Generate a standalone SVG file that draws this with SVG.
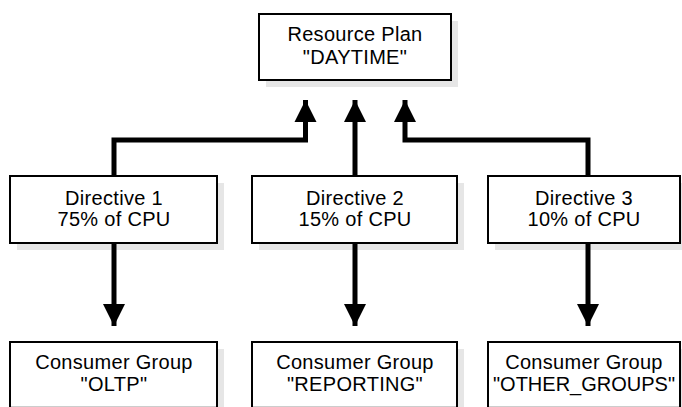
<svg xmlns="http://www.w3.org/2000/svg" width="682" height="407" viewBox="0 0 682 407">
<defs>
<style>
.box{fill:#fff;stroke:#000;stroke-width:2}
.sh{fill:#e6e6e6}
.t{font-family:"Liberation Sans",Arial,sans-serif;font-size:20px;text-anchor:middle;fill:#000;letter-spacing:0.3px}
.ln{fill:none;stroke:#000;stroke-width:5;stroke-linejoin:miter}
</style>
<marker id="ah" markerUnits="userSpaceOnUse" markerWidth="22" markerHeight="24" refX="22" refY="11" orient="auto" viewBox="0 0 22 22">
<path d="M0,0 L22,11 L0,22 Z" fill="#000"/>
</marker>
</defs>
<rect width="682" height="407" fill="#fff"/>
<g id="plan">
<rect class="sh" x="266" y="21" width="192" height="66"/>
<rect class="box" x="259" y="14" width="192" height="66"/>
<text class="t" x="355" y="41">Resource Plan</text>
<text class="t" x="355" y="64">"DAYTIME"</text>
</g>
<g id="d1">
<rect class="sh" x="17" y="183" width="207" height="67"/>
<rect class="box" x="10" y="176" width="207" height="67"/>
<text class="t" x="114" y="205">Directive 1</text>
<text class="t" x="114" y="226">75% of CPU</text>
</g>
<g id="d2">
<rect class="sh" x="259" y="183" width="205" height="67"/>
<rect class="box" x="252" y="176" width="205" height="67"/>
<text class="t" x="355" y="205">Directive 2</text>
<text class="t" x="355" y="226">15% of CPU</text>
</g>
<g id="d3">
<rect class="sh" x="495" y="183" width="200" height="67"/>
<rect class="box" x="488" y="176" width="192" height="67"/>
<text class="t" x="584" y="205">Directive 3</text>
<text class="t" x="584" y="226">10% of CPU</text>
</g>
<g id="g1">
<rect class="sh" x="17" y="349" width="207" height="70"/>
<rect class="box" x="10" y="342" width="207" height="65.8"/>
<text class="t" x="114" y="369">Consumer Group</text>
<text class="t" x="114" y="391">"OLTP"</text>
</g>
<g id="g2">
<rect class="sh" x="259" y="349" width="205" height="70"/>
<rect class="box" x="252" y="342" width="205" height="65.8"/>
<text class="t" x="355" y="369">Consumer Group</text>
<text class="t" x="355" y="391">"REPORTING"</text>
</g>
<g id="g3">
<rect class="sh" x="495" y="349" width="200" height="70"/>
<rect class="box" x="488" y="342" width="192" height="65.8"/>
<text class="t" x="584" y="369">Consumer Group</text>
<text class="t" x="584" y="391" style="letter-spacing:0">"OTHER_GROUPS"</text>
</g>
<g id="connectors">
<path class="ln" d="M114,176 V140 H305.5 V100" marker-end="url(#ah)"/>
<path class="ln" d="M355,176 V100" marker-end="url(#ah)"/>
<path class="ln" d="M588,176 V140 H405 V100" marker-end="url(#ah)"/>
<path class="ln" d="M114,243 V326" marker-end="url(#ah)"/>
<path class="ln" d="M355,243 V326" marker-end="url(#ah)"/>
<path class="ln" d="M588,243 V326" marker-end="url(#ah)"/>
</g>
</svg>
